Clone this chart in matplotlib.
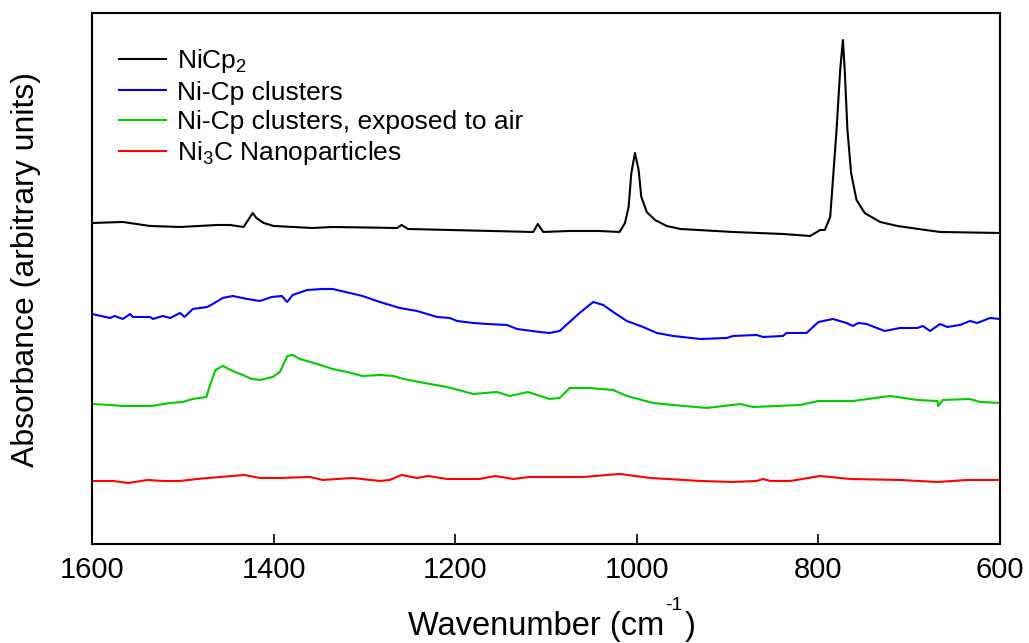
import numpy as np
import matplotlib
matplotlib.use("Agg")
import matplotlib.pyplot as plt

plt.rcParams["font.family"] = ["Liberation Sans", "DejaVu Sans"]
plt.rcParams["mathtext.fontset"] = "custom"
plt.rcParams["mathtext.rm"] = "Liberation Sans"
plt.rcParams["mathtext.it"] = "Liberation Sans:italic"
plt.rcParams["mathtext.default"] = "regular"

# IR spectra, wavenumber (cm^-1) vs. offset absorbance
nicp2_wn = [1600, 1566, 1536, 1503, 1462, 1448, 1433, 1428, 1423, 1419, 1411, 1400,
            1357, 1335, 1264, 1259, 1252, 1114, 1109, 1103, 1074, 1041, 1019, 1013,
            1009, 1006, 1002, 998, 995, 989, 980, 967, 952, 894, 839, 809, 798, 793,
            787, 784, 780, 776, 773, 771, 768, 764, 758, 749, 732, 713, 674, 666, 600]
nicp2_abs = [3.21, 3.22, 3.18, 3.17, 3.19, 3.19, 3.17, 3.24, 3.31, 3.26, 3.21, 3.18,
             3.16, 3.17, 3.16, 3.19, 3.15, 3.12, 3.20, 3.12, 3.13, 3.13, 3.12, 3.21,
             3.37, 3.71, 3.91, 3.74, 3.47, 3.32, 3.24, 3.18, 3.15, 3.12, 3.10, 3.08, 3.14, 3.14,
             3.27, 3.64, 4.14, 4.74, 5.04, 4.74, 4.14, 3.71, 3.44, 3.31, 3.22, 3.18, 3.13, 3.12, 3.11]

clusters_wn = [1600, 1580, 1575, 1566, 1558, 1555, 1536, 1533, 1522, 1514, 1503, 1498,
               1489, 1473, 1467, 1456, 1445, 1429, 1415, 1402, 1391, 1385, 1379, 1363,
               1346, 1335, 1302, 1283, 1261, 1242, 1220, 1206, 1198, 1180, 1165, 1143,
               1132, 1107, 1096, 1085, 1074, 1063, 1048, 1037, 1026, 1011, 993, 978, 960,
               930, 901, 894, 868, 861, 839, 835, 813, 800, 784, 769, 762, 756, 747, 727,
               710, 691, 685, 677, 666, 658, 644, 633, 625, 611, 600]
clusters_abs = [2.30, 2.26, 2.28, 2.25, 2.30, 2.27, 2.27, 2.25, 2.28, 2.26, 2.31, 2.27,
                2.35, 2.37, 2.40, 2.46, 2.48, 2.45, 2.43, 2.47, 2.48, 2.42, 2.49, 2.54,
                2.55, 2.55, 2.48, 2.42, 2.36, 2.33, 2.27, 2.26, 2.23, 2.21, 2.20, 2.19,
                2.15, 2.12, 2.11, 2.13, 2.22, 2.31, 2.42, 2.39, 2.32, 2.23, 2.17, 2.11, 2.08,
                2.05, 2.06, 2.08, 2.09, 2.07, 2.08, 2.11, 2.11, 2.22, 2.25, 2.21, 2.18, 2.21, 2.20, 2.13,
                2.16, 2.16, 2.18, 2.13, 2.20, 2.17, 2.19, 2.23, 2.21, 2.26, 2.25]

air_wn = [1600, 1580, 1566, 1534, 1514, 1500, 1489, 1474, 1470, 1464, 1456, 1445,
          1434, 1424, 1415, 1401, 1393, 1385, 1379, 1371, 1352, 1335, 1319, 1302,
          1283, 1268, 1257, 1228, 1209, 1180, 1154, 1140, 1120, 1096, 1085, 1074,
          1052, 1026, 1011, 982, 960, 923, 886, 872, 820, 800, 762, 721, 691, 669,
          668, 663, 633, 622, 600]
air_abs = [1.40, 1.39, 1.38, 1.38, 1.41, 1.42, 1.45, 1.47, 1.59, 1.74, 1.78, 1.73,
           1.69, 1.65, 1.64, 1.67, 1.72, 1.88, 1.89, 1.85, 1.80, 1.75, 1.72, 1.68,
           1.69, 1.68, 1.65, 1.60, 1.57, 1.50, 1.52, 1.48, 1.52, 1.45, 1.46, 1.56,
           1.56, 1.54, 1.48, 1.41, 1.39, 1.36, 1.40, 1.37, 1.39, 1.43, 1.43, 1.48, 1.44, 1.43,
           1.38, 1.44, 1.45, 1.42, 1.41]

ni3c_wn = [1600, 1577, 1560, 1539, 1522, 1503, 1484, 1459, 1432, 1415, 1393, 1360,
           1346, 1313, 1283, 1272, 1259, 1242, 1230, 1209, 1173, 1156, 1136, 1118,
           1059, 1019, 985, 930, 894, 868, 861, 853, 831, 798, 765, 710, 669, 636, 600]
ni3c_abs = [0.63, 0.63, 0.61, 0.64, 0.63, 0.63, 0.65, 0.67, 0.69, 0.66, 0.66, 0.67,
            0.64, 0.66, 0.63, 0.64, 0.69, 0.66, 0.68, 0.65, 0.65, 0.68, 0.65, 0.67,
            0.67, 0.70, 0.66, 0.63, 0.62, 0.63, 0.65, 0.63, 0.63, 0.68, 0.65, 0.64, 0.62, 0.64, 0.64]

labels = ["NiCp$_2$", "Ni-Cp clusters", "Ni-Cp clusters, exposed to air", "Ni$_3$C Nanoparticles"]
colors = ["#000000", "#0000ff", "#00cc00", "#ff0000"]

fig = plt.figure(figsize=(10.29, 6.43), dpi=100)
ax = fig.add_axes([0.0894, 0.154, 0.8824, 0.8258])

spectra = [(nicp2_wn, nicp2_abs), (clusters_wn, clusters_abs),
           (air_wn, air_abs), (ni3c_wn, ni3c_abs)]
for (wn, ab), lab, col in zip(spectra, labels, colors):
    ax.plot(wn, ab, color=col, lw=1.5, label=lab)

ax.set_xlim(1600, 600)
ax.set_ylim(0, 5.31)
ax.set_xticks([1600, 1400, 1200, 1000, 800, 600])
ax.set_yticks([])
ax.tick_params(axis="x", direction="in", length=7, width=1.2, labelsize=21, pad=9)
for sp in ax.spines.values():
    sp.set_linewidth(1.5)

# x label built in pieces so the exponent uses a plain hyphen and sits high
t1 = ax.text(0.348, -0.171, "Wavenumber (cm", transform=ax.transAxes,
             ha="left", va="baseline", fontsize=23.5)
t2 = ax.annotate("-1", xy=(1, -0.124), xycoords=(t1, ax.transAxes),
                 xytext=(1, 0), textcoords="offset points",
                 ha="left", va="baseline", fontsize=14)
ax.annotate(")", xy=(1, -0.171), xycoords=(t2, ax.transAxes),
            xytext=(1, 0), textcoords="offset points",
            ha="left", va="baseline", fontsize=23.5)

ax.set_ylabel("Absorbance (arbitrary units)", fontsize=23)
ax.yaxis.set_label_coords(-0.056, 0.516)

ax.legend(loc="upper left", bbox_to_anchor=(0.0, 0.986), frameon=False, fontsize=19,
          handlelength=1.78, handletextpad=0.42, labelspacing=0.2, borderaxespad=0.62)

fig.savefig("out.png", dpi=100)
